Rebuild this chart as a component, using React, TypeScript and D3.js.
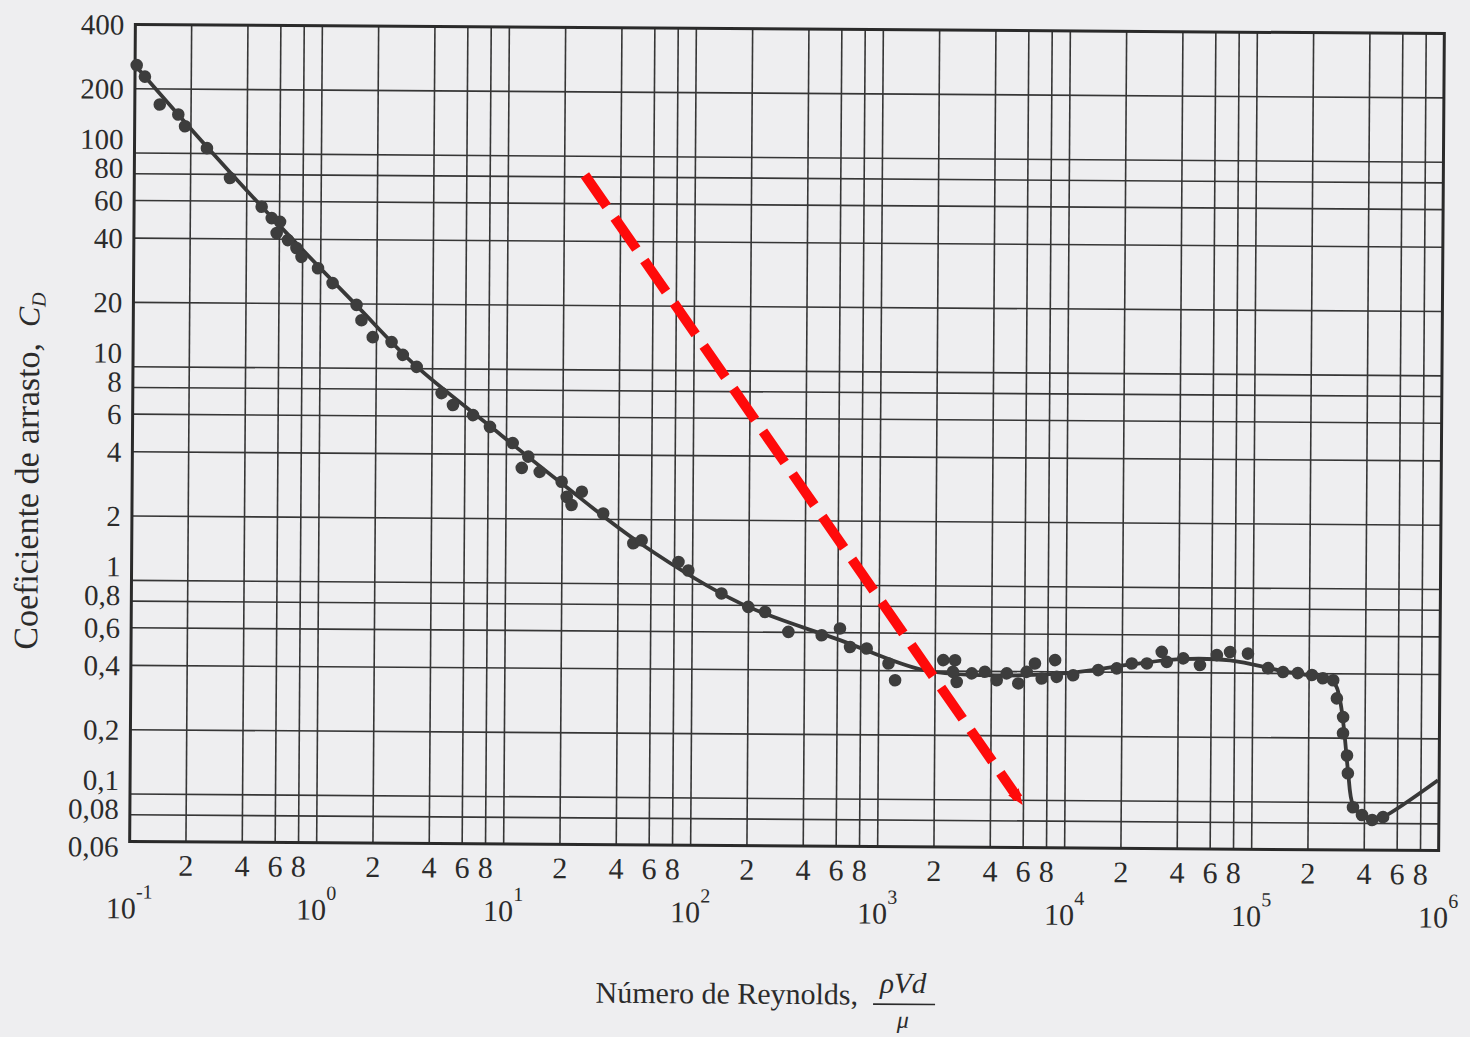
import React from 'react';
import * as d3 from 'd3';

// Sphere drag coefficient vs Reynolds number (scanned textbook chart, slightly tilted)

// measured points (Re, CD)
const dotRe = [
  0.102, 0.113, 0.136, 0.171, 0.186, 0.244, 0.325, 0.481, 0.545, 0.604, 0.58, 0.667, 0.741, 0.789, 0.968,
  1.16, 1.56, 1.66, 1.91, 2.41, 2.77, 3.29, 4.48, 5.16, 6.61, 8.15, 10.8, 13.1, 12.1, 15.1, 19.8, 25.4,
  21.1, 22.4, 33.1, 48.1, 53.3, 84, 94.9, 143, 199, 245, 327, 493, 617, 700, 859, 1125, 1222, 2208, 2553,
  2490, 2610, 3140, 3690, 4270, 4830, 5570, 6170, 6830, 7430, 8750, 8940, 10940, 14900, 18700, 22500,
  27100, 32500, 34600, 42400, 52100, 64100, 75400, 94000, 120500, 145000, 174000, 207000, 237000,
  269000, 282000, 305000, 305000, 321000, 325000, 347000, 388000, 440000, 503000,
];
const dotCd = [
  258, 228, 169, 152, 134, 106, 77, 56.6, 50.1, 48.2, 42.7, 39.6, 36.4, 33.1, 29.3,
  25.0, 19.8, 16.8, 14.0, 13.3, 11.6, 10.2, 7.7, 6.78, 6.09, 5.37, 4.52, 3.91, 3.46, 3.32, 2.99, 2.69,
  2.54, 2.33, 2.13, 1.55, 1.6, 1.27, 1.16, 0.908, 0.787, 0.746, 0.603, 0.583, 0.628, 0.515, 0.507, 0.432, 0.361, 0.45, 0.45,
  0.397, 0.356, 0.391, 0.398, 0.364, 0.392, 0.352, 0.399, 0.437, 0.372, 0.454, 0.379, 0.386, 0.409, 0.417, 0.44,
  0.441, 0.5, 0.449, 0.467, 0.435, 0.485, 0.502, 0.494, 0.423, 0.406, 0.402, 0.394, 0.381,
  0.373, 0.307, 0.251, 0.211, 0.166, 0.137, 0.0951, 0.0875, 0.083, 0.0857,
];

// faired curve
const curveRe = [
  0.1, 0.243, 0.604, 1.55, 3.26, 8.15, 19.4, 52.3, 180, 618, 1722, 3605, 10140, 22860, 40700, 75500,
  145000, 237000, 275000, 293000, 309000, 325000, 347000, 388000, 445000, 503000, 986000,
];
const curveCd = [
  258, 108, 46, 19.8, 10.3, 5.42, 2.98, 1.55, 0.819, 0.554, 0.404, 0.384, 0.395, 0.437, 0.463, 0.459,
  0.41, 0.381, 0.357, 0.301, 0.218, 0.142, 0.0973, 0.0873, 0.0828, 0.0857, 0.128,
];

// red dashed annotation (start, end)
const arrowRe = [25.7, 5610];
const arrowCd = [81.6, 0.102];

const yTicks = [400, 200, 100, 80, 60, 40, 20, 10, 8, 6, 4, 2, 1, 0.8, 0.6, 0.4, 0.2, 0.1, 0.08, 0.06];
const yTickLabels = ['400', '200', '100', '80', '60', '40', '20', '10', '8', '6', '4', '2', '1',
  '0,8', '0,6', '0,4', '0,2', '0,1', '0,08', '0,06'];
const decadeExponents = [-1, 0, 1, 2, 3, 4, 5, 6];
const minorMantissas = [2, 4, 6, 8];

const W = 1470;
const H = 1037;
const P = { left: 132.5, right: 1441.5, top: 29, bottom: 846 };
const FONT = '"Liberation Serif", "Times New Roman", serif';
const INK = '#2b2b2b';

export default function App() {
  const x = d3.scaleLog().domain([0.1, 1e6]).range([P.left, P.right]);
  const y = d3.scaleLog().domain([0.06, 400]).range([P.bottom, P.top]);

  const gridX = decadeExponents.slice(0, -1)
    .flatMap(e => [1, ...minorMantissas].map(m => m * Math.pow(10, e)))
    .filter(v => v > 0.1001);
  const gridY = yTicks.slice(1, -1);

  const line = d3.line<number>()
    .x(i => x(curveRe[i]))
    .y(i => y(curveCd[i]))
    .curve(d3.curveCatmullRom.alpha(0.5));

  // crowded labels in the original sit a little above / below their line
  const labelShift = (v: number) => {
    const m = v / Math.pow(10, Math.floor(Math.log10(v) + 1e-9));
    if (v === 0.06) return 5;
    if (Math.abs(m - 1) < 0.01 && v < 400) return -14;
    if (Math.abs(m - 8) < 0.01) return -6;
    return 0;
  };

  return (
    <div style={{ position: 'absolute', left: 0, top: 0 }}>
      <svg width={W} height={H} style={{ display: 'block' }} fontFamily={FONT}>
        <rect width={W} height={H} fill="#eeeef0" />
        <defs>
          <marker id="tip" viewBox="0 0 10 10" refX="5" refY="5" markerWidth="16" markerHeight="16"
            markerUnits="userSpaceOnUse" orient="auto">
            <path d="M0,1 L10,5 L0,9 Z" fill="#ff0a0a" />
          </marker>
        </defs>
        <g transform="rotate(0.4, 787, 437.5)">
          {/* grid */}
          {gridX.map((v, i) => (
            <line key={'gx' + i} x1={x(v)} x2={x(v)} y1={P.top} y2={P.bottom} stroke="#363636" strokeWidth={1.6} />
          ))}
          {gridY.map((v, i) => (
            <line key={'gy' + i} x1={P.left} x2={P.right} y1={y(v)} y2={y(v)} stroke="#363636" strokeWidth={1.6} />
          ))}
          <rect x={P.left} y={P.top} width={P.right - P.left} height={P.bottom - P.top}
            fill="none" stroke="#2a2a2a" strokeWidth={3} />

          {/* curve + points */}
          <path d={line(d3.range(curveRe.length)) || ''} fill="none" stroke="#383838" strokeWidth={3.8}
            strokeLinejoin="round" />
          {dotRe.map((r, i) => (
            <circle key={'d' + i} cx={x(r)} cy={y(dotCd[i])} r={6.3} fill="#3d3d3d" />
          ))}

          {/* red dashed annotation */}
          <line x1={x(arrowRe[0])} y1={y(arrowCd[0])} x2={x(arrowRe[1])} y2={y(arrowCd[1])}
            stroke="#ff0a0a" strokeWidth={10} strokeDasharray="38 14" markerEnd="url(#tip)" />

          {/* y tick labels */}
          {yTicks.map((v, i) => (
            <text key={'yl' + i} x={P.left - 11} y={y(v) + labelShift(v)} dy="0.35em" textAnchor="end"
              fontSize={29} fill={INK}>{yTickLabels[i]}</text>
          ))}

          {/* x tick labels */}
          {decadeExponents.slice(0, -1).flatMap(e => minorMantissas.map(m => (
            <text key={'xm' + e + m} x={x(m * Math.pow(10, e))} y={P.bottom + 34} textAnchor="middle"
              fontSize={30} fill={INK}>{m}</text>
          )))}
          {decadeExponents.map(e => (
            <text key={'xd' + e} x={x(Math.pow(10, e))} y={P.bottom + 77} textAnchor="middle"
              fontSize={30} fill={INK}>
              10<tspan fontSize={20} dy={-20}>{e}</tspan>
            </text>
          ))}

          {/* axis titles */}
          <text x={862} y={1004} textAnchor="end" fontSize={30} fill={INK}>Número de Reynolds,</text>
          <text x={907} y={992} textAnchor="middle" fontSize={29} fontStyle="italic" fill={INK}>ρVd</text>
          <line x1={877} x2={939} y1={1003.5} y2={1003.5} stroke={INK} strokeWidth={1.6} />
          <text x={907} y={1027} textAnchor="middle" fontSize={24} fontStyle="italic" fill={INK}>μ</text>

          <text transform="translate(38.5, 655) rotate(-90)" fontSize={34} fill={INK}>
            Coeficiente de arrasto,
            <tspan dx={16} fontSize={30} fontStyle="italic">C</tspan>
            <tspan fontSize={20} fontStyle="italic" dy={6}>D</tspan>
          </text>
        </g>
      </svg>
    </div>
  );
}
